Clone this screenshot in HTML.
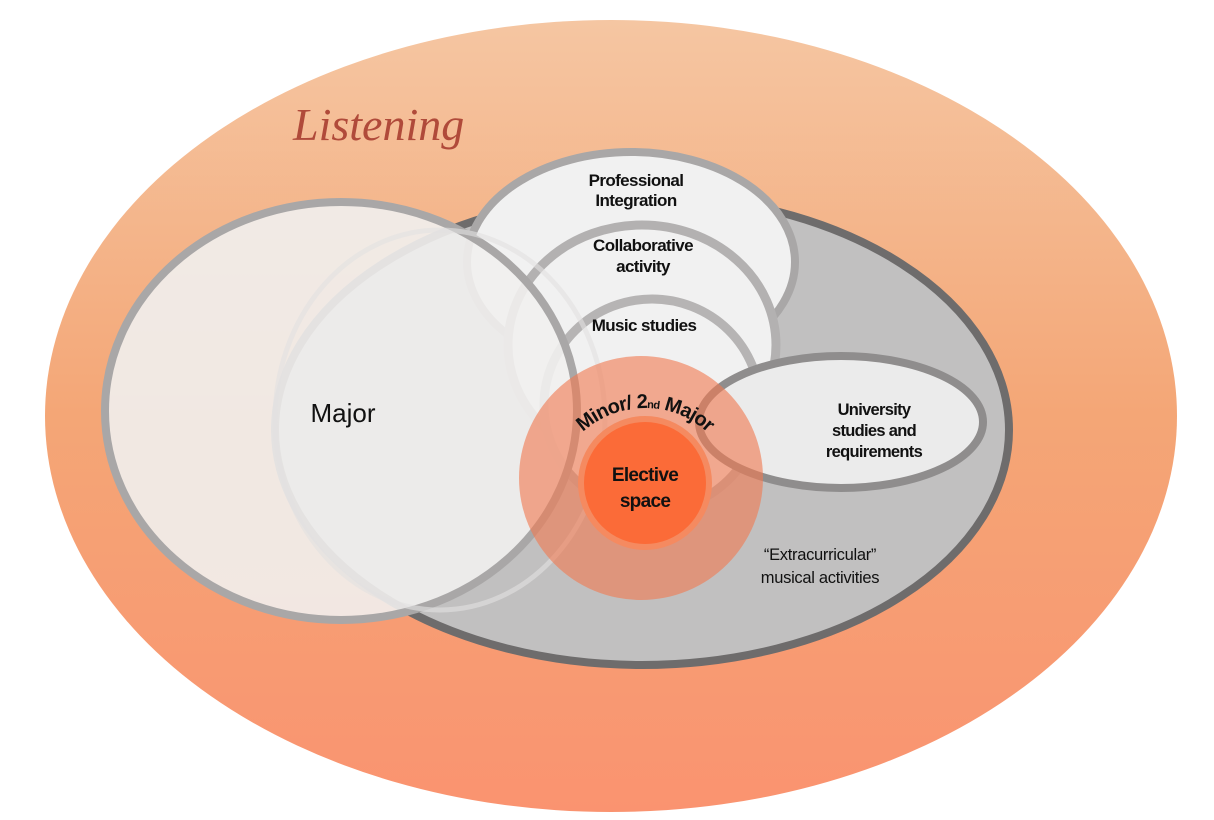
<!DOCTYPE html>
<html><head><meta charset="utf-8"><style>
html,body{margin:0;padding:0;background:#fff;}
svg{display:block;}
text{font-family:"Liberation Sans",sans-serif;fill:#111;}
</style></head><body>
<svg width="1214" height="820" viewBox="0 0 1214 820" xmlns="http://www.w3.org/2000/svg">
<defs>
<linearGradient id="og" x1="0" y1="0" x2="0" y2="1">
<stop offset="0" stop-color="#f5c6a2"/>
<stop offset="0.5" stop-color="#f4a676"/>
<stop offset="1" stop-color="#fa9370"/>
</linearGradient>
<path id="arc" d="M553,500 A92,92 0 0 1 737,500"/>
</defs>
<ellipse cx="611" cy="416" rx="566" ry="396" fill="url(#og)"/>
<text x="293" y="140" style="font-family:'Liberation Serif',serif;font-style:italic;font-size:46px;fill:#b04a3a;">Listening</text>
<ellipse cx="642" cy="430" rx="367" ry="235" fill="#c1c0c0" stroke="#6e6c6c" stroke-width="8"/>
<ellipse cx="631" cy="262" rx="164" ry="110" fill="#f1f1f1" stroke="#a9a7a7" stroke-width="8"/>
<ellipse cx="642" cy="345" rx="134" ry="120" fill="#f1f1f1" stroke="#b3b1b1" stroke-width="9"/>
<ellipse cx="652" cy="405" rx="108" ry="106" fill="#f1f1f1" stroke="#b6b4b4" stroke-width="9"/>
<ellipse cx="341" cy="411" rx="236" ry="209" fill="#f1efee" fill-opacity="0.9" stroke="#a9a7a7" stroke-width="8"/>
<ellipse cx="440" cy="420" rx="165" ry="190" fill="none" stroke="#e2e1e1" stroke-width="5" opacity="0.6"/>
<ellipse cx="841" cy="422" rx="142" ry="66" fill="#ebebeb" stroke="#8f8d8d" stroke-width="8"/>
<circle cx="641" cy="478" r="122" fill="#f07a52" fill-opacity="0.62"/>
<circle cx="645" cy="483" r="64" fill="#fb6b38" stroke="#f58a60" stroke-width="6"/>
<text x="636" y="186" text-anchor="middle" font-size="17" font-weight="bold" letter-spacing="-0.6">Professional</text>
<text x="636" y="206" text-anchor="middle" font-size="17" font-weight="bold" letter-spacing="-0.6">Integration</text>
<text x="643" y="251" text-anchor="middle" font-size="17" font-weight="bold" letter-spacing="-0.6">Collaborative</text>
<text x="643" y="272" text-anchor="middle" font-size="17" font-weight="bold" letter-spacing="-0.6">activity</text>
<text x="644" y="331" text-anchor="middle" font-size="17" font-weight="bold" letter-spacing="-0.6">Music studies</text>
<text x="343" y="422" text-anchor="middle" font-size="26">Major</text>
<text x="874" y="415" text-anchor="middle" font-size="16.5" font-weight="bold" letter-spacing="-0.7">University</text>
<text x="874" y="436" text-anchor="middle" font-size="16.5" font-weight="bold" letter-spacing="-0.7">studies and</text>
<text x="874" y="457" text-anchor="middle" font-size="16.5" font-weight="bold" letter-spacing="-0.7">requirements</text>
<text x="645" y="481" text-anchor="middle" font-size="19" font-weight="bold" letter-spacing="-0.7">Elective</text>
<text x="645" y="507" text-anchor="middle" font-size="19" font-weight="bold" letter-spacing="-0.7">space</text>
<text x="820" y="560" text-anchor="middle" font-size="16.5" letter-spacing="-0.3">“Extracurricular”</text>
<text x="820" y="583" text-anchor="middle" font-size="16.5" letter-spacing="-0.3">musical activities</text>
<text font-size="20" font-weight="bold" letter-spacing="-0.8"><textPath href="#arc" startOffset="50%" text-anchor="middle">Minor/ 2<tspan font-size="11">nd</tspan> Major</textPath></text>
</svg>
</body></html>
